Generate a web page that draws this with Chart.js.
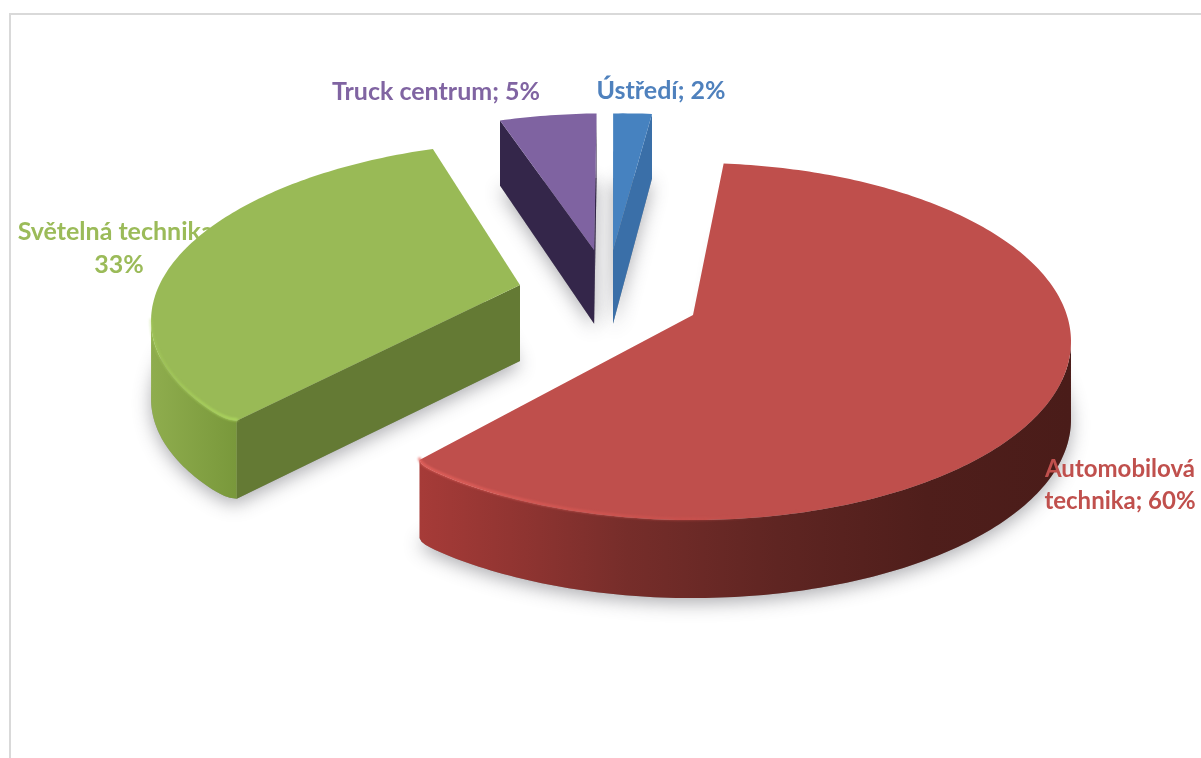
<!DOCTYPE html>
<html>
<head>
<meta charset="utf-8">
<title>Pie</title>
<script src="https://cdn.jsdelivr.net/npm/chart.js@4/dist/chart.umd.js"></script>
<style>
  html, body { margin: 0; padding: 0; background: #fff; overflow: hidden; }
  #wrap { position: relative; width: 1201px; height: 758px; }
  #frame { position: absolute; left: 9px; top: 13px; right: -5px; bottom: -5px; border-left: 2px solid #d9d9d9; border-top: 2px solid #d9d9d9; }
  canvas { position: absolute; left: 0; top: 0; filter: blur(0.5px); }
</style>
</head>
<body>
<div id="wrap">
  <div id="frame"></div>
  <canvas id="pie" width="1201" height="758"></canvas>
</div>
<script>
const categories = ["Automobilová technika", "Světelná technika", "Truck centrum", "Ústředí"];
const shares = [60, 33, 5, 2];
const labelLines = [
    ["Automobilová", "technika; 60%"],
    ["Světelná technika;", "33%"],
    ["Truck centrum; 5%"],
    ["Ústředí; 2%"],
];

const topColors = ["#BF4F4C", "#99BA56", "#7F63A1", "#4682C0"];
const textColors = ["#C0504D", "#9BBB59", "#8064A2", "#4F81BD"];
const cutColors = ["#5a2320", "#647A34", "#34264A", "#3A6FA8"];
const labelPos = [[1120, 469], [119, 232], [436, 92], [661, 91]];
const labelSize = [24, 25, 25, 25];

// exploded apex of each slice on the pie plane, in radii from the red apex
const apex = [[0, 0], [-0.475, -0.176], [-0.28, -0.394], [-0.2265, -0.394]];
const sliceRadius = [1, 0.99, 1, 1];
// rim rounding at the front corner only: [at start angle, at end angle]
const cornerCut = [[0, 0.015], [0.015, 0], [0, 0], [0, 0]];

// fake 3D camera
const cx = 693, cy = 315, radiusX = 373.8, radiusY = 174.6, persp = 0.1486, depth = 78;

function project(x, y) {
    const k = 1 / (1 - persp * y);
    return { x: cx + radiusX * x * k, y: cy + radiusY * y * k, d: depth * Math.min(k, 1) };
}

function slicePoints(arc, i) {
    const { startAngle, endAngle } = arc.getProps(["startAngle", "endAngle"], true);
    const a = apex[i];
    const pts = [project(a[0], a[1])];
    const steps = Math.max(6, Math.round((endAngle - startAngle) * 60));
    for (let s = 0; s <= steps; s++) {
        const t = startAngle + (endAngle - startAngle) * s / steps;
        const r = sliceRadius[i]
            - cornerCut[i][0] * Math.exp(-(t - startAngle) / 0.02)
            - cornerCut[i][1] * Math.exp(-(endAngle - t) / 0.02);
        pts.push(project(a[0] + r * Math.cos(t), a[1] + r * Math.sin(t)));
    }
    return pts;
}

function outerWallFill(ctx, i) {
    if (i === 0) {
        const g = ctx.createLinearGradient(420, 0, 1070, 0);
        g.addColorStop(0, "#A63B38");
        g.addColorStop(0.16, "#8F3431");
        g.addColorStop(0.32, "#762D2A");
        g.addColorStop(0.55, "#5F2522");
        g.addColorStop(0.78, "#4F1E1B");
        g.addColorStop(1, "#4A1C19");
        return g;
    }
    if (i === 1) {
        const g = ctx.createLinearGradient(150, 0, 245, 0);
        g.addColorStop(0, "#8FAD4E");
        g.addColorStop(1, "#779639");
        return g;
    }
    return cutColors[i];
}

function rimStroke(ctx, i) {
    if (i === 0) {
        const g = ctx.createLinearGradient(420, 0, 800, 0);
        g.addColorStop(0, "rgba(232,100,94,0.8)");
        g.addColorStop(0.7, "rgba(214,84,80,0.45)");
        g.addColorStop(1, "rgba(190,80,76,0)");
        return g;
    }
    if (i === 1) {
        const g = ctx.createLinearGradient(150, 0, 240, 0);
        g.addColorStop(0, "rgba(172,214,92,0.3)");
        g.addColorStop(1, "rgba(176,220,96,0.85)");
        return g;
    }
    return null;
}

function fillPoly(ctx, pts, dropped) {
    ctx.beginPath();
    pts.forEach((p, n) => {
        const y = dropped ? p.y + p.d : p.y;
        if (n === 0) ctx.moveTo(p.x, y); else ctx.lineTo(p.x, y);
    });
    ctx.closePath();
    ctx.fill();
}

function drawCutWalls(ctx, pts, i) {
    const last = pts.length - 1;
    [[0, 1], [last, 0]].forEach(([a, b]) => {
        const p = pts[a], q = pts[b];
        if (q.x >= p.x) return; // wall faces away from the viewer
        ctx.fillStyle = cutColors[i];
        ctx.beginPath();
        ctx.moveTo(p.x, p.y);
        ctx.lineTo(q.x, q.y);
        ctx.lineTo(q.x, q.y + q.d);
        ctx.lineTo(p.x, p.y + p.d);
        ctx.closePath();
        ctx.fill();
    });
}

function frontRim(pts) {
    const rim = [];
    for (let n = 1; n < pts.length - 1; n++) {
        if (pts[n + 1].x < pts[n].x) {
            if (!rim.length) rim.push(pts[n]);
            rim.push(pts[n + 1]);
        }
    }
    return rim;
}

const pie3d = {
    id: "pie3d",
    beforeDatasetsDraw(chart) {
        const ctx = chart.ctx;
        const arcs = chart.getDatasetMeta(0).data;
        const all = arcs.map((arc, i) => slicePoints(arc, i));

        // this label sits behind the green slice
        drawLabel(ctx, 1);

        // soft shadow under every slice
        ctx.save();
        ctx.shadowColor = "rgba(60,60,70,0.42)";
        ctx.shadowBlur = 18;
        ctx.shadowOffsetY = 5;
        ctx.fillStyle = "#999";
        all.forEach(pts => fillPoly(ctx, pts, true));
        ctx.restore();

        [3, 2, 1, 0].forEach(i => {
            const pts = all[i];
            const rim = frontRim(pts);
            drawCutWalls(ctx, pts, i);
            if (rim.length) {
                ctx.fillStyle = outerWallFill(ctx, i);
                ctx.beginPath();
                rim.forEach((p, n) => (n ? ctx.lineTo(p.x, p.y) : ctx.moveTo(p.x, p.y)));
                rim.slice().reverse().forEach(p => ctx.lineTo(p.x, p.y + p.d));
                ctx.closePath();
                ctx.fill();
            }
            ctx.fillStyle = topColors[i];
            fillPoly(ctx, pts, false);

            const light = rimStroke(ctx, i);
            if (light && rim.length) {
                ctx.save();
                ctx.filter = "blur(1.2px)";
                ctx.strokeStyle = light;
                ctx.lineWidth = 3;
                ctx.lineCap = "round";
                ctx.beginPath();
                rim.forEach((p, n) => (n ? ctx.lineTo(p.x, p.y - 1) : ctx.moveTo(p.x, p.y - 1)));
                ctx.stroke();
                ctx.restore();
            }
        });

        [0, 2, 3].forEach(i => drawLabel(ctx, i));
        return false;
    },
};

function drawLabel(ctx, i) {
    ctx.save();
    ctx.font = "700 " + labelSize[i] + "px Lato";
    ctx.fillStyle = textColors[i];
    ctx.textAlign = "center";
    ctx.textBaseline = "middle";
    labelLines[i].forEach((line, n) => {
        ctx.fillText(line, labelPos[i][0], labelPos[i][1] + n * 32.5);
    });
    ctx.restore();
}

new Chart(document.getElementById("pie"), {
    type: "pie",
    data: {
        labels: categories,
        datasets: [{ data: shares, backgroundColor: topColors, borderWidth: 0 }],
    },
    options: {
        responsive: false,
        animation: false,
        rotation: 5.4,
        plugins: { legend: { display: false }, tooltip: { enabled: false } },
    },
    plugins: [pie3d],
});
</script>
</body>
</html>
